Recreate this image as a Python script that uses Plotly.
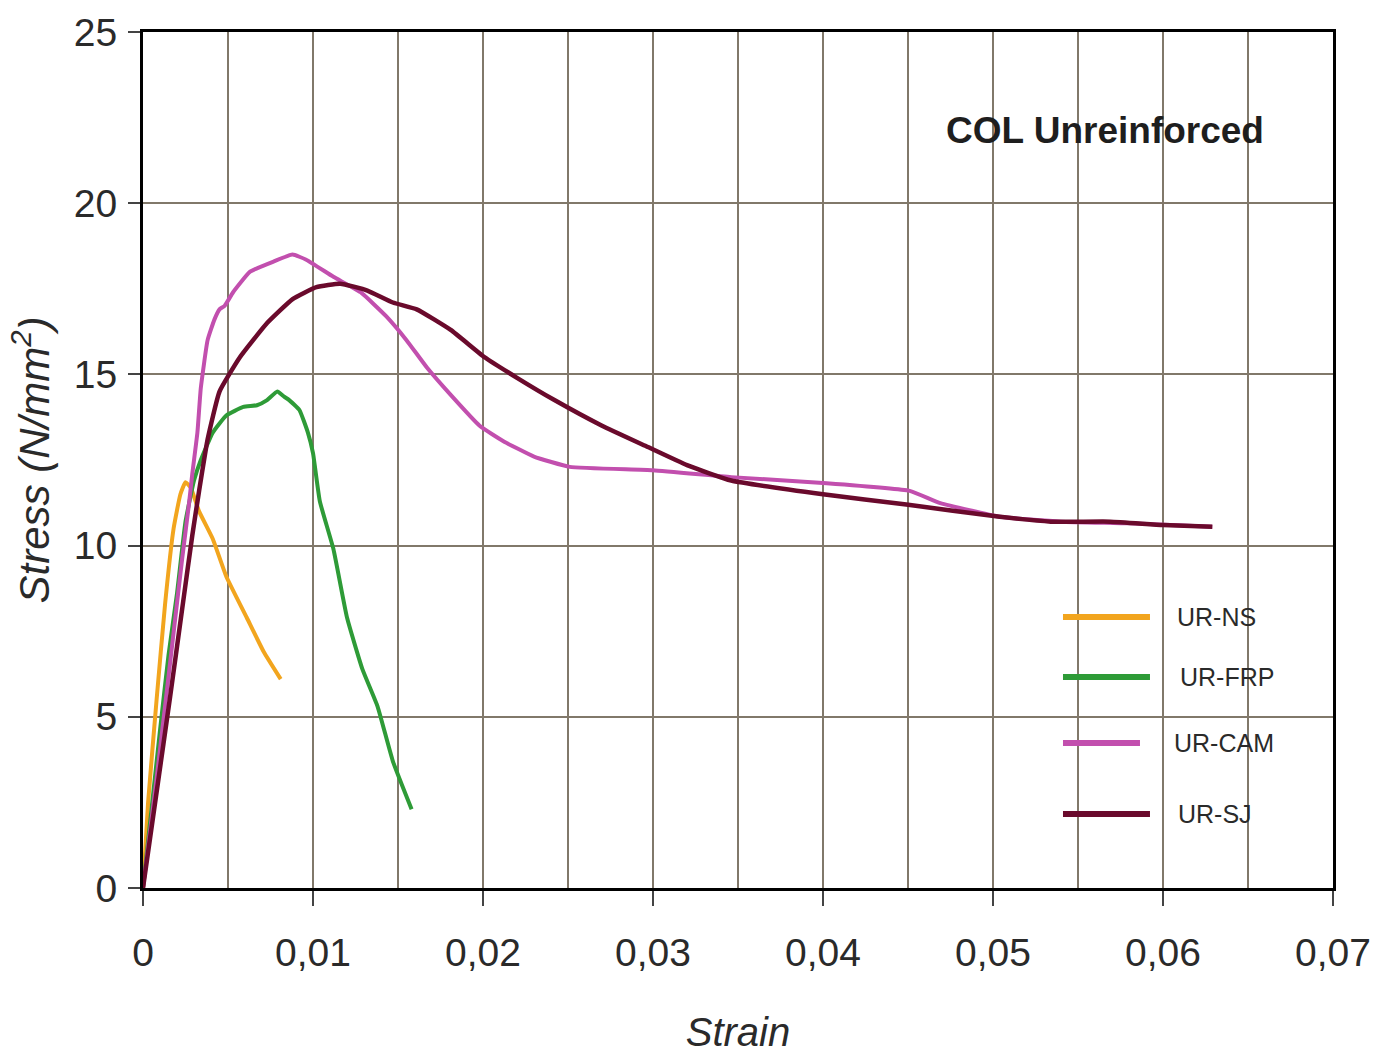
import plotly.graph_objects as go

# ---------------- data ----------------
ns_strain = [0, 0.0003, 0.0008, 0.0013, 0.0018, 0.0022, 0.0025, 0.0028, 0.0033, 0.0041, 0.0049, 0.0061, 0.0071, 0.0081]
ns_stress = [0, 2.5, 5.5, 8.3, 10.5, 11.5, 11.85, 11.7, 11.0, 10.2, 9.1, 7.9, 6.9, 6.1]

frp_strain = [0, 0.0005, 0.0010, 0.0015, 0.0020, 0.0025, 0.0030, 0.0034, 0.0041, 0.0049, 0.0059, 0.0067,
              0.0073, 0.0079, 0.0083, 0.0086, 0.0092, 0.0097, 0.0100, 0.0104, 0.0112, 0.0120, 0.0129,
              0.0138, 0.0147, 0.0158]
frp_stress = [0, 2.3, 4.6, 6.8, 8.6, 10.7, 11.9, 12.5, 13.3, 13.8, 14.05, 14.1,
              14.25, 14.5, 14.35, 14.25, 13.96, 13.3, 12.7, 11.3, 9.9, 7.9, 6.4,
              5.3, 3.7, 2.3]

cam_strain = [0, 0.0008, 0.0016, 0.0023, 0.0027, 0.0029, 0.0032, 0.0034, 0.0038, 0.0042, 0.0045,
              0.0048, 0.0053, 0.0063, 0.0077, 0.0088, 0.0096, 0.0112, 0.0128, 0.0143, 0.0155, 0.0167,
              0.0181, 0.0198, 0.0212, 0.0230, 0.0251, 0.0300, 0.0346, 0.0400, 0.0451, 0.0469, 0.0504,
              0.0540, 0.0580, 0.0629]
cam_stress = [0, 3.2, 6.6, 9.6, 11.2, 12.1, 13.3, 14.6, 16.0, 16.6, 16.9,
              17.0, 17.4, 18.0, 18.3, 18.5, 18.35, 17.85, 17.4, 16.7, 16.0, 15.2,
              14.4, 13.5, 13.05, 12.6, 12.3, 12.2, 12.0, 11.83, 11.6, 11.24, 10.84,
              10.7, 10.65, 10.55]

sj_strain = [0, 0.0008, 0.0016, 0.0024, 0.0029, 0.0033, 0.0038, 0.0045, 0.0057, 0.0073, 0.0088,
             0.0102, 0.0116, 0.0132, 0.0147, 0.0161, 0.0181, 0.0201, 0.0220, 0.0242, 0.0270,
             0.0296, 0.0320, 0.0346, 0.0400, 0.0449, 0.0504, 0.0534, 0.0569, 0.0600, 0.0629]
sj_stress = [0, 2.8, 5.6, 8.5, 10.3, 11.6, 13.1, 14.5, 15.5, 16.5, 17.2,
             17.55, 17.65, 17.45, 17.1, 16.9, 16.3, 15.5, 14.9, 14.25, 13.5,
             12.9, 12.35, 11.9, 11.5, 11.2, 10.84, 10.7, 10.7, 10.6, 10.55]

series_names = ["UR-NS", "UR-FRP", "UR-CAM", "UR-SJ"]

x_tick_vals = [0, 0.01, 0.02, 0.03, 0.04, 0.05, 0.06, 0.07]
x_tick_text = ["0", "0,01", "0,02", "0,03", "0,04", "0,05", "0,06", "0,07"]
y_tick_vals = [0, 5, 10, 15, 20, 25]
y_tick_text = ["0", "5", "10", "15", "20", "25"]

# ---------------- styling ----------------
colors = ["#F2A51E", "#2E9B37", "#C24FAE", "#6A0A2C"]
FONT = "Liberation Sans Narrow, Arial Narrow, Liberation Sans, Arial, sans-serif"
TXT = "#2a2a2a"
GRID = "#81786a"

fig = go.Figure()
all_series = [(ns_strain, ns_stress), (frp_strain, frp_stress),
              (cam_strain, cam_stress), (sj_strain, sj_stress)]
widths = [4, 4, 4, 4.5]
for (xs, ys), name, c, w in zip(all_series, series_names, colors, widths):
    fig.add_trace(go.Scatter(x=xs, y=ys, mode="lines", name=name,
                             line=dict(color=c, width=w, shape="spline", smoothing=0.4),
                             showlegend=False))

# manual legend (long swatches like the reference)
leg_y = [0.3166, 0.2465, 0.1694, 0.0864]
leg_x0 = 0.7731
leg_x1 = [0.8462, 0.8462, 0.8378, 0.8462]
leg_tx = [0.8672, 0.8697, 0.8647, 0.8681]
for i, name in enumerate(series_names):
    fig.add_shape(type="line", xref="paper", yref="paper",
                  x0=leg_x0, x1=leg_x1[i], y0=leg_y[i], y1=leg_y[i],
                  line=dict(color=colors[i], width=6))
    fig.add_annotation(xref="paper", yref="paper", x=leg_tx[i], y=leg_y[i],
                       text=name, showarrow=False, xanchor="left", yanchor="middle",
                       font=dict(family=FONT, size=25, color=TXT))

fig.add_annotation(xref="paper", yref="paper", x=0.808, y=0.885,
                   text="<b>COL Unreinforced</b>", showarrow=False,
                   xanchor="center", yanchor="middle",
                   font=dict(family=FONT, size=37, color="#1e1e1e"))

fig.update_xaxes(range=[0, 0.07], tickmode="array", tickvals=x_tick_vals, ticktext=x_tick_text,
                 ticks="outside", ticklen=15, tickwidth=2, tickcolor="#444",
                 showgrid=True, gridcolor=GRID, gridwidth=2,
                 minor=dict(tickmode="linear", tick0=0, dtick=0.005, showgrid=True,
                            gridcolor=GRID, gridwidth=2, ticks=""),
                 showline=True, linecolor="black", linewidth=3, mirror=True, zeroline=False,
                 automargin=False,
                 tickfont=dict(family=FONT, size=39, color=TXT), ticklabelstandoff=13,
                 title=dict(text="<i>Strain</i>", font=dict(family=FONT, size=40, color=TXT),
                            standoff=46))
fig.update_yaxes(range=[0, 25], tickmode="array", tickvals=y_tick_vals, ticktext=y_tick_text,
                 ticks="outside", ticklen=12, tickwidth=2, tickcolor="#444",
                 showgrid=True, gridcolor=GRID, gridwidth=2,
                 showline=True, linecolor="black", linewidth=3, mirror=True, zeroline=False,
                 automargin=False,
                 tickfont=dict(family=FONT, size=39, color=TXT), ticklabelstandoff=3,
                 title=dict(text="<i>Stress (N/mm<sup>2</sup>)</i>",
                            font=dict(family=FONT, size=42, color=TXT), standoff=12))

fig.update_layout(width=1391, height=1054, autosize=False,
                  margin=dict(l=143, r=58, t=32, b=166),
                  plot_bgcolor="white", paper_bgcolor="white",
                  showlegend=False)

fig.write_html("out.html", config={"displayModeBar": False},
               post_script="document.body.style.margin='0';document.body.style.overflow='hidden';")
